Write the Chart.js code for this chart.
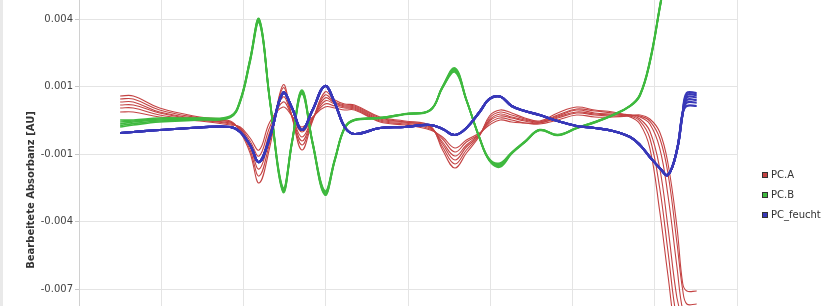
<!DOCTYPE html>
<html><head><meta charset="utf-8">
<script src="https://cdn.jsdelivr.net/npm/chart.js@4.4.1/dist/chart.umd.min.js"></script>
<style>
html,body{margin:0;padding:0;background:#fff;}
#wrap{position:relative;width:839px;height:306px;overflow:hidden;background:#fff;font-family:"DejaVu Sans",sans-serif;}
#cv{position:absolute;left:0;top:0;}
#rand{position:absolute;left:0;top:0;width:3px;height:306px;background:#e9e9e9;}
.leg{position:absolute;left:762px;width:80px;height:12px;font-size:10px;color:#333;line-height:12px;white-space:nowrap;}
.leg i{position:absolute;left:0;top:3px;width:6px;height:6px;border:1px solid #333;box-sizing:border-box;}
.leg span{position:absolute;left:9px;top:0;}
</style></head>
<body>
<div id="wrap">
<canvas id="cv" width="839" height="400"></canvas>
<div id="rand"></div>
<div id="legende"></div>
</div>
<script>
// x positions (arbitrary spectral units, gridlines every 1 unit)
const wellenlaenge = [0.50, 0.66, 0.98, 1.47, 1.84, 1.96, 2.08, 2.19, 2.32, 2.48, 2.59, 2.71, 2.84, 2.99, 3.11, 3.23, 3.35, 3.66, 3.96, 4.27, 4.42, 4.57, 4.71, 4.87, 4.99, 5.12, 5.26, 5.42, 5.60, 5.82, 6.05, 6.27, 6.49, 6.70, 6.82, 6.94, 7.06, 7.16, 7.27, 7.34, 7.39, 7.51];

const yTickWerte = [0.004, 0.00125, -0.0015, -0.00425, -0.007];
const yTickLabels = ["0.004", "0.001", "-0.001", "-0.004", "-0.007"];
const Y_MAX = 0.0047741;
const Y_MIN = -0.0107074;

const gruppen = ["PC.A", "PC.B", "PC_feucht"];

// PC.A (red)
const pcA_1 = [0.000863, 0.000863, 0.000374, 0.000007, -0.000156, -0.000604, -0.001459, -0.002681, -0.001215, 0.001311, 0.000007, -0.001337, -0.000156, 0.001026, 0.000700, 0.000537, 0.000496, 0.000007, -0.000156, -0.000359, -0.001337, -0.002070, -0.001459, -0.000767, 0.000048, 0.000293, 0.000170, -0.000033, -0.000156, 0.000170, 0.000415, 0.000293, 0.000211, 0.000007, -0.000278, -0.001256, -0.003822, -0.006430, -0.009078, -0.009282, -0.009282, -0.009282];
const pcA_2 = [0.000741, 0.000741, 0.000293, -0.000033, -0.000196, -0.000563, -0.001337, -0.002396, -0.001011, 0.001189, 0.000007, -0.001133, -0.000115, 0.000904, 0.000618, 0.000496, 0.000456, -0.000033, -0.000196, -0.000400, -0.001215, -0.001907, -0.001337, -0.000726, -0.000033, 0.000211, 0.000089, -0.000074, -0.000196, 0.000089, 0.000333, 0.000252, 0.000170, 0.000048, -0.000156, -0.000848, -0.002885, -0.005452, -0.008263, -0.008670, -0.008670, -0.008670];
const pcA_3 = [0.000618, 0.000618, 0.000211, -0.000074, -0.000196, -0.000522, -0.001215, -0.002111, -0.000807, 0.001026, 0.000048, -0.000970, -0.000074, 0.000782, 0.000578, 0.000456, 0.000415, -0.000074, -0.000196, -0.000400, -0.001093, -0.001744, -0.001215, -0.000726, -0.000115, 0.000130, 0.000007, -0.000115, -0.000196, 0.000048, 0.000293, 0.000170, 0.000130, 0.000089, -0.000074, -0.000563, -0.002070, -0.004474, -0.007367, -0.008182, -0.008263, -0.008263];
const pcA_4 = [0.000496, 0.000496, 0.000170, -0.000115, -0.000237, -0.000481, -0.001093, -0.001826, -0.000604, 0.000822, 0.000048, -0.000807, -0.000074, 0.000659, 0.000537, 0.000415, 0.000374, -0.000115, -0.000237, -0.000441, -0.001011, -0.001581, -0.001133, -0.000685, -0.000156, 0.000048, -0.000033, -0.000156, -0.000237, 0.000007, 0.000211, 0.000130, 0.000089, 0.000089, 0.000007, -0.000278, -0.001256, -0.003170, -0.006104, -0.007856, -0.007978, -0.007978];
const pcA_5 = [0.000374, 0.000374, 0.000089, -0.000115, -0.000278, -0.000441, -0.000970, -0.001581, -0.000400, 0.000618, 0.000048, -0.000604, -0.000033, 0.000537, 0.000456, 0.000374, 0.000333, -0.000156, -0.000278, -0.000481, -0.000889, -0.001419, -0.001011, -0.000685, -0.000237, -0.000033, -0.000115, -0.000237, -0.000237, -0.000033, 0.000170, 0.000089, 0.000048, 0.000089, 0.000048, -0.000156, -0.000848, -0.002274, -0.005126, -0.007041, -0.007611, -0.007611];
const pcA_6 = [0.000211, 0.000211, 0.000007, -0.000156, -0.000319, -0.000400, -0.000848, -0.001337, -0.000196, 0.000415, 0.000048, -0.000400, 0.000007, 0.000415, 0.000374, 0.000293, 0.000293, -0.000196, -0.000319, -0.000522, -0.000807, -0.001256, -0.000930, -0.000644, -0.000319, -0.000115, -0.000196, -0.000237, -0.000278, -0.000115, 0.000089, 0.000007, 0.000007, 0.000048, 0.000089, -0.000074, -0.000604, -0.001866, -0.004474, -0.006777, -0.007082, -0.007082];

// PC.B (green)
const pcB_1 = [-0.000115, -0.000115, -0.000033, -0.000033, 0.000048, 0.00070, 0.00237, 0.00400, 0.00074, -0.002885, -0.00097, 0.001107, -0.00101, -0.003007, -0.00170, -0.00042, -0.00010, -0.00002, 0.00014, 0.00030, 0.00125, 0.002004, 0.00072, -0.00083, -0.00171, -0.001867, -0.00143, -0.00099, -0.00051, -0.00071, -0.00043, -0.00019, 0.00010, 0.00047, 0.00093, 0.00230, 0.00450, 0.00650, 0.0090, 0.0110, 0.0125, 0.0160];
const pcB_2 = [-0.000196, -0.000156, -0.000074, -0.00005, 0.00003, 0.00068, 0.00235, 0.00398, 0.00072, -0.002926, -0.00099, 0.001067, -0.00103, -0.003048, -0.00172, -0.00043, -0.00011, -0.00003, 0.00013, 0.00029, 0.00124, 0.001963, 0.00071, -0.00084, -0.00173, -0.001907, -0.00145, -0.00100, -0.00052, -0.00072, -0.00044, -0.00020, 0.00009, 0.00046, 0.00091, 0.00227, 0.00447, 0.00645, 0.0089, 0.0109, 0.0124, 0.0158];
const pcB_3 = [-0.000278, -0.000196, -0.000115, -0.000074, 0.000007, 0.00066, 0.00233, 0.00394, 0.00070, -0.002967, -0.00101, 0.001026, -0.00105, -0.003089, -0.00174, -0.00044, -0.000115, -0.00003, 0.00013, 0.00029, 0.00123, 0.001922, 0.00070, -0.00085, -0.00174, -0.001948, -0.00146, -0.00101, -0.00052, -0.00073, -0.00044, -0.00020, 0.00009, 0.00046, 0.00090, 0.00225, 0.00445, 0.0064, 0.0088, 0.0108, 0.0123, 0.0156];
const pcB_4 = [-0.00034, -0.00026, -0.000156, -0.00009, 0.000007, 0.00064, 0.00229, 0.00390, 0.00068, -0.003007, -0.00103, 0.000985, -0.00107, -0.003130, -0.00176, -0.00045, -0.00012, -0.00004, 0.00012, 0.00028, 0.00121, 0.001881, 0.00069, -0.00086, -0.00176, -0.001989, -0.00147, -0.00102, -0.00053, -0.00073, -0.00045, -0.00021, 0.00008, 0.00045, 0.00089, 0.00223, 0.00442, 0.00635, 0.0087, 0.0107, 0.0122, 0.0154];
const pcB_5 = [-0.00040, -0.000319, -0.000196, -0.000115, -0.00001, 0.00062, 0.00225, 0.00386, 0.00066, -0.003048, -0.00105, 0.000945, -0.00109, -0.003170, -0.00178, -0.00046, -0.00013, -0.00005, 0.00011, 0.00027, 0.00120, 0.001841, 0.00068, -0.00087, -0.00178, -0.00203, -0.00149, -0.00103, -0.00054, -0.00074, -0.00046, -0.00022, 0.00007, 0.00044, 0.00087, 0.00220, 0.00440, 0.0063, 0.0086, 0.0106, 0.0121, 0.0152];

// PC_feucht (blue): common course, individual end values
const pcFeucht_basis = [-0.000644, -0.000604, -0.000522, -0.000420, -0.000400, -0.000604, -0.001133, -0.001826, -0.000807, 0.000985, 0.000374, -0.000522, 0.000293, 0.001270, 0.000578, -0.000400, -0.000685, -0.000441, -0.000400, -0.000319, -0.000481, -0.000726, -0.000441, 0.000211, 0.000741, 0.000840, 0.000456, 0.000252, 0.000089, -0.000156, -0.000359, -0.000441, -0.000563, -0.000807, -0.001133, -0.001622, -0.002070, -0.002356, -0.001337, 0.000170];
const pcFeucht_ende = [0.000985, 0.000904, 0.000810, 0.000700, 0.000590, 0.000456];

const farben = {"PC.A": "#c44343", "PC.B": "#3fb93f", "PC_feucht": "#3838b8"};
const breiten = {"PC.A": 1.1, "PC.B": 1.7, "PC_feucht": 2.2};

function punkte(werte) { return wellenlaenge.map((x, i) => ({x: x, y: werte[i]})); }

const datasets = [];
pcFeucht_ende.forEach(e => {
  datasets.push({label: "PC_feucht", data: punkte(pcFeucht_basis.concat([e, e])), borderColor: farben["PC_feucht"], borderWidth: breiten["PC_feucht"]});
});
[pcB_1, pcB_2, pcB_3, pcB_4, pcB_5].forEach(s => {
  datasets.push({label: "PC.B", data: punkte(s), borderColor: farben["PC.B"], borderWidth: breiten["PC.B"]});
});
[pcA_1, pcA_2, pcA_3, pcA_4, pcA_5, pcA_6].forEach(s => {
  datasets.push({label: "PC.A", data: punkte(s), borderColor: farben["PC.A"], borderWidth: breiten["PC.A"]});
});

Chart.defaults.font.family = "'DejaVu Sans', sans-serif";

new Chart(document.getElementById('cv'), {
  type: 'line',
  data: {datasets: datasets},
  options: {
    responsive: false, animation: false, devicePixelRatio: 1,
    layout: {padding: {left: 0, top: 0, right: 102, bottom: 0}},
    plugins: {legend: {display: false}, tooltip: {enabled: false}},
    elements: {point: {radius: 0}, line: {tension: 0.4, fill: false, capBezierPoints: false}},
    scales: {
      x: {
        type: 'linear', min: 0, max: 8,
        ticks: {display: false, stepSize: 1},
        grid: {color: '#e4e4e4', drawTicks: false},
        border: {display: false},
        afterFit: s => { s.height = 20; s.paddingLeft = 0; s.paddingRight = 0; }
      },
      y: {
        type: 'linear', min: Y_MIN, max: Y_MAX,
        afterBuildTicks: s => { s.ticks = yTickWerte.map(v => ({value: v})); },
        ticks: {
          callback: v => yTickLabels[yTickWerte.indexOf(v)],
          font: {size: 10}, color: '#444', padding: 2, autoSkip: false
        },
        grid: {color: '#e4e4e4', tickLength: 4, tickColor: '#c8c8c8'},
        border: {display: true, color: '#d0d0d0'},
        title: {display: true, text: 'Bearbeitete Absorbanz [AU]', font: {size: 10, weight: 'bold'}, color: '#333', padding: {top: 25, bottom: 0}},
        afterFit: s => { s.width = 79; s.paddingTop = 0; s.paddingBottom = 0; }
      }
    }
  }
});

// legend
const legendeTop = [169, 189, 209];
const leg = document.getElementById('legende');
gruppen.forEach((g, i) => {
  const d = document.createElement('div');
  d.className = 'leg';
  d.style.top = legendeTop[i] + 'px';
  const sw = document.createElement('i');
  sw.style.background = farben[g];
  const t = document.createElement('span');
  t.textContent = g;
  d.appendChild(sw); d.appendChild(t);
  leg.appendChild(d);
});
</script>
</body></html>
